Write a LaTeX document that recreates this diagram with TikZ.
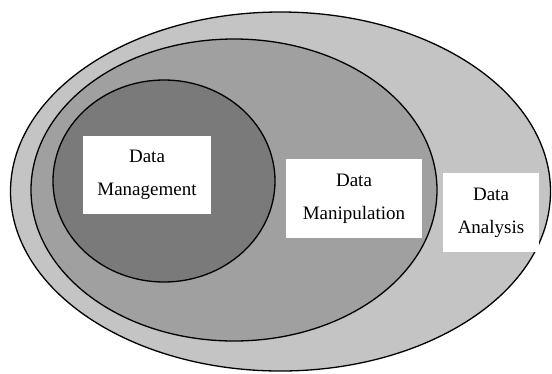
\documentclass[tikz,border=0pt]{standalone}
\usepackage{fontspec}
\setmainfont{Liberation Serif}
\usepackage{tikz}
\usetikzlibrary{positioning}
\definecolor{outergray}{RGB}{196,196,196}
\definecolor{middlegray}{RGB}{160,160,160}
\definecolor{innergray}{RGB}{122,122,122}
\tikzset{label box/.style = {fill=white, align=center, inner sep=0,
    font=\fontsize{19}{33}\selectfont}}

\begin{document}
\begin{tikzpicture}[x=1pt, y=-1pt, line width=1.3pt]
    \useasboundingbox (0, 0) rectangle (552, 373);

    \draw [fill=outergray] (280.5, 191.5) ellipse [x radius=270, y radius=179.5];
    \draw [fill=middlegray] (234, 190) ellipse [x radius=203, y radius=151];
    \draw [fill=innergray] (164, 181) ellipse [x radius=111, y radius=101];

    \node [label box, minimum width=128, minimum height=78] (mgmt) at (147, 175) {Data\\Management};
    \node [label box, minimum width=136, minimum height=79] (manip) at (354, 198.5) {Data\\Manipulation};
    \node [label box, minimum width=96, minimum height=79] (analysis) at (491, 212.5) {Data\\Analysis};
  \end{tikzpicture}
\end{document}
